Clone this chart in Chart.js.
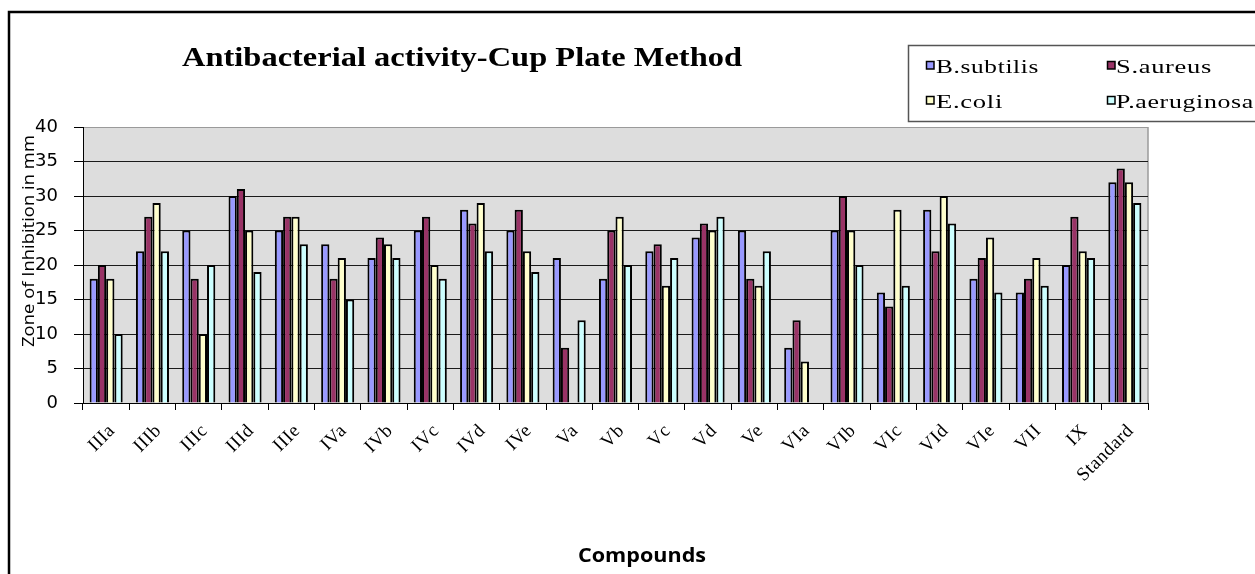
<!DOCTYPE html>
<html>
<head>
<meta charset="utf-8">
<title>Antibacterial activity-Cup Plate Method</title>
<script src="https://cdn.jsdelivr.net/npm/chart.js@4.4.1/dist/chart.umd.min.js"></script>
<style>
  html, body { margin: 0; padding: 0; background: #ffffff; }
  canvas { display: block; }
</style>
</head>
<body>
<canvas id="chart" width="1255" height="574"></canvas>
<script>
// Compounds tested (x categories)
const compounds = ['IIIa', 'IIIb', 'IIIc', 'IIId', 'IIIe', 'IVa', 'IVb', 'IVc', 'IVd', 'IVe',
  'Va', 'Vb', 'Vc', 'Vd', 'Ve', 'VIa', 'VIb', 'VIc', 'VId', 'VIe', 'VII', 'IX', 'Standard'];

// Zone of inhibition (mm) per organism
const bSubtilis   = [18, 22, 25, 30, 25, 23, 21, 25, 28, 25, 21, 18, 22, 24, 25,  8, 25, 16, 28, 18, 16, 20, 32];
const sAureus     = [20, 27, 18, 31, 27, 18, 24, 27, 26, 28,  8, 25, 23, 26, 18, 12, 30, 14, 22, 21, 18, 27, 34];
const eColi       = [18, 29, 10, 25, 27, 21, 23, 20, 29, 22,  0, 27, 17, 25, 17,  6, 25, 28, 30, 24, 21, 22, 32];
const pAeruginosa = [10, 22, 20, 19, 23, 15, 21, 18, 22, 19, 12, 20, 21, 27, 22,  0, 20, 17, 26, 16, 17, 21, 29];

const seriesNames = ['B.subtilis', 'S.aureus', 'E.coli', 'P.aeruginosa'];
const seriesColors = ['#9999FF', '#993366', '#FFFFCC', '#CCFFFF'];

// Value axis
const yMin = 0;
const yMax = 40;
const yStep = 5;

const chartTitle = 'Antibacterial activity-Cup Plate Method';
const yTitle = 'Zone of Inhibition in mm';
const xTitle = 'Compounds';

// draw text stretched to a given width
function drawWide(ctx, text, x, y, width, spacing) {
  ctx.save();
  ctx.letterSpacing = (spacing || 0) + 'px';
  const w = ctx.measureText(text).width;
  ctx.translate(x, y);
  ctx.scale(width / w, 1);
  ctx.textAlign = 'left';
  ctx.fillText(text, 0, 0);
  ctx.restore();
}

const decorations = {
  id: 'decorations',
  beforeDraw(chart) {
    const { ctx, chartArea: a } = chart;
    ctx.save();
    // plot background
    ctx.fillStyle = '#DDDDDD';
    ctx.fillRect(a.left, a.top, a.right - a.left, a.bottom - a.top);
    ctx.strokeStyle = '#9a9a9a';
    ctx.lineWidth = 1.5;
    ctx.beginPath();
    ctx.moveTo(a.right, a.bottom);
    ctx.lineTo(a.right, a.top);
    ctx.stroke();
    // outer frame
    ctx.strokeStyle = '#000';
    ctx.lineWidth = 2.5;
    ctx.beginPath();
    ctx.moveTo(9, chart.height);
    ctx.lineTo(9, 12);
    ctx.lineTo(chart.width, 12);
    ctx.stroke();
    ctx.restore();
  },
  afterDraw(chart) {
    const { ctx } = chart;
    const xScale = chart.scales.x;
    ctx.save();
    ctx.fillStyle = '#000';
    ctx.textBaseline = 'alphabetic';

    // chart title
    ctx.font = 'bold 27px "Liberation Serif", serif';
    drawWide(ctx, chartTitle, 182, 66, 560, 0);

    // legend
    ctx.strokeStyle = '#555';
    ctx.lineWidth = 1.5;
    ctx.strokeRect(908.5, 45.5, 400, 76);
    const legendPos = [[926, 61, 936, 72.5, 103], [1107, 61, 1116, 72.5, 96],
                       [926, 96, 936, 108, 67], [1107, 96, 1116, 108, 138]];
    ctx.font = '19px "Liberation Serif", serif';
    chart.data.datasets.forEach((ds, i) => {
      const p = legendPos[i];
      ctx.fillStyle = ds.backgroundColor;
      ctx.fillRect(p[0], p[1], 8, 8);
      ctx.strokeStyle = '#000';
      ctx.lineWidth = 1.5;
      ctx.strokeRect(p[0] + 0.5, p[1] + 0.5, 7.5, 7.5);
      ctx.fillStyle = '#000';
      drawWide(ctx, ds.label, p[2], p[3], p[4], 0.5);
    });

    // category labels, rotated
    ctx.font = '19px "Liberation Serif", serif';
    ctx.letterSpacing = '0.5px';
    ctx.textAlign = 'right';
    ctx.textBaseline = 'middle';
    chart.data.labels.forEach((lab, i) => {
      const x = xScale.getPixelForTick(i);
      ctx.save();
      ctx.translate(x + 6, xScale.top + 25);
      ctx.rotate(-Math.PI / 4);
      ctx.fillText(lab, 0, 0);
      ctx.restore();
    });
    ctx.letterSpacing = '0px';

    // axis titles
    ctx.textBaseline = 'alphabetic';
    ctx.font = '16px "Open Sans", sans-serif';
    ctx.save();
    ctx.translate(34, 347);
    ctx.rotate(-Math.PI / 2);
    drawWide(ctx, yTitle, 0, 0, 212, 0);
    ctx.restore();

    ctx.font = 'bold 20px "Open Sans", sans-serif';
    drawWide(ctx, xTitle, 578, 562, 128, 0);
    ctx.restore();
  }
};

const datasets = [bSubtilis, sAureus, eColi, pAeruginosa].map((values, i) => ({
  label: seriesNames[i],
  data: values,
  backgroundColor: seriesColors[i],
  borderColor: '#000',
  borderWidth: 2,
  categoryPercentage: 0.714,
  barPercentage: 1.0
}));

new Chart(document.getElementById('chart'), {
  type: 'bar',
  data: { labels: compounds, datasets },
  plugins: [decorations],
  options: {
    responsive: false,
    animation: false,
    devicePixelRatio: 1,
    layout: { padding: { left: 0, top: 127, right: 107, bottom: 0 } },
    plugins: {
      legend: { display: false },
      title: { display: false },
      tooltip: { enabled: false }
    },
    scales: {
      x: {
        grid: { display: true, drawOnChartArea: false, drawTicks: true, tickLength: 7, color: '#000', offset: true },
        border: { display: true, color: '#000', width: 1 },
        ticks: { display: false },
        afterFit(scale) { scale.height = 171; }
      },
      y: {
        min: yMin,
        max: yMax,
        ticks: {
          stepSize: yStep,
          padding: 16,
          color: '#000',
          font: { family: '"DejaVu Sans", sans-serif', size: 18 }
        },
        grid: {
          color: c => (c.tick && c.tick.value === yMax ? '#9a9a9a' : '#1a1a1a'),
          tickColor: '#000',
          tickLength: 9,
          lineWidth: 1
        },
        border: { display: true, color: '#000', width: 1 },
        afterFit(scale) { scale.width = 83; }
      }
    }
  }
});
</script>
</body>
</html>
